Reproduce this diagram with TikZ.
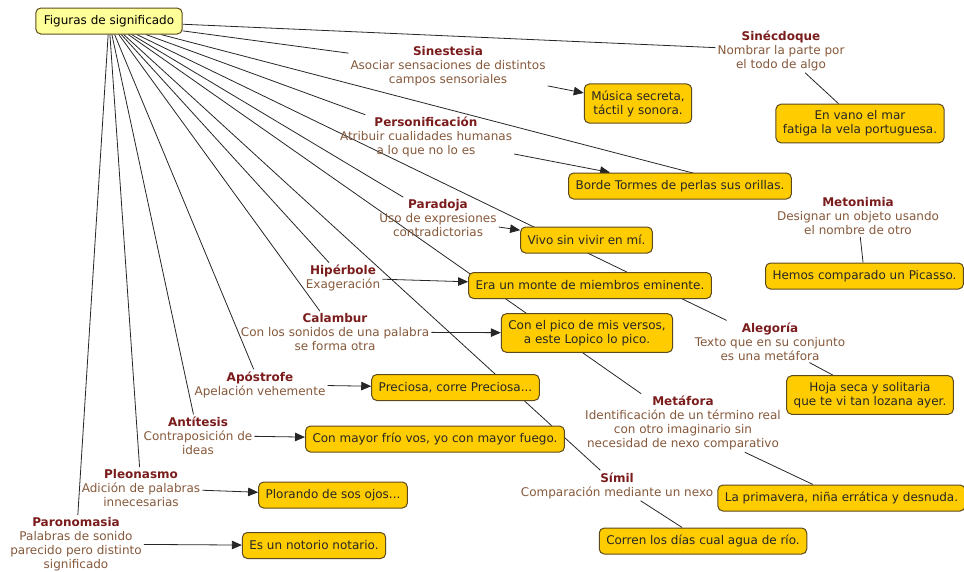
\documentclass[tikz,border=0pt]{standalone}
\usepackage{fontspec}
\setmainfont{DejaVu Sans}
\usepackage{tikz}
\usetikzlibrary{arrows.meta,backgrounds}
\definecolor{cmapyellow}{HTML}{FFCC00}
\definecolor{cmaproot}{HTML}{FFFF99}
\definecolor{cmapedge}{HTML}{5C4A1C}
\definecolor{figtitle}{HTML}{7B1C1C}
\definecolor{figdesc}{HTML}{85583A}
\newcommand{\figfont}{\fontsize{12}{14}\selectfont}
\newcommand{\figname}[1]{{\bfseries\color{figtitle}#1}}
\tikzset{
  rootbox/.style={rectangle, rounded corners=5pt, draw=cmapedge, fill=cmaproot, line width=1pt,
                  align=center, inner xsep=8pt, minimum height=26pt, font=\figfont},
  exbox/.style  ={rectangle, rounded corners=5pt, draw=cmapedge, fill=cmapyellow, line width=1pt,
                  align=center, inner xsep=7pt, inner ysep=6.5pt, minimum height=26pt,
                  text=black!85, font=\figfont},
  figlink/.style={align=center, inner sep=2pt, text=figdesc, font=\figfont},
  conn/.style   ={line width=0.8pt, draw=black!85},
  arr/.style    ={conn, -{Triangle[length=10pt,width=8.5pt]}},
}

\begin{document}
\begin{tikzpicture}[x=1pt,y=-1pt]
  \useasboundingbox (0,0) rectangle (964,571);
  \node[rootbox] (root) at (109,21) {Figuras de significado};

  % figures
  \node[figlink] (sinecdoque) at (781,50.5) {\figname{Sinécdoque}\\Nombrar la parte por\\el todo de algo};
  \node[figlink] (sinestesia) at (448,66.5) {\figname{Sinestesia}\\Asociar sensaciones de distintos\\campos sensoriales};
  \node[figlink] (personif) at (426,137) {\figname{Personificación}\\Atribuir cualidades humanas\\a lo que no lo es};
  \node[figlink] (paradoja) at (438,218) {\figname{Paradoja}\\Uso de expresiones\\contradictorias};
  \node[figlink] (metonimia) at (858,216) {\figname{Metonimia}\\Designar un objeto usando\\el nombre de otro};
  \node[figlink] (hiperbole) at (343,278) {\figname{Hipérbole}\\Exageración};
  \node[figlink] (calambur) at (335,332) {\figname{Calambur}\\Con los sonidos de una palabra\\se forma otra};
  \node[figlink] (alegoria) at (770,341.5) {\figname{Alegoría}\\Texto que en su conjunto\\es una metáfora};
  \node[figlink] (apostrofe) at (260,384.5) {\figname{Apóstrofe}\\Apelación vehemente};
  \node[figlink] (metafora) at (683,423) {\figname{Metáfora}\\Identificación de un término real\\con otro imaginario sin\\necesidad de nexo comparativo};
  \node[figlink] (antitesis) at (198,435.5) {\figname{Antítesis}\\Contraposición de\\ideas};
  \node[figlink] (simil) at (617,485.5) {\figname{Símil}\\Comparación mediante un nexo};
  \node[figlink] (pleonasmo) at (141,488) {\figname{Pleonasmo}\\Adición de palabras\\innecesarias};
  \node[figlink] (paronomasia) at (76,544) {\figname{Paronomasia}\\Palabras de sonido\\parecido pero distinto\\significado};

  % examples
  \node[exbox] (exsinec) at (860,123.5) {En vano el mar\\fatiga la vela portuguesa.};
  \node[exbox] (exsines) at (638,103.5) {Música secreta,\\táctil y sonora.};
  \node[exbox] (expers) at (680,186) {Borde Tormes de perlas sus orillas.};
  \node[exbox] (exparad) at (586.5,240) {Vivo sin vivir en mí.};
  \node[exbox] (exmeton) at (864.5,276) {Hemos comparado un Picasso.};
  \node[exbox] (exhiper) at (590,285.5) {Era un monte de miembros eminente.};
  \node[exbox] (excalam) at (587,333) {Con el pico de mis versos,\\a este Lopico lo pico.};
  \node[exbox] (exapos) at (455.5,387.5) {Preciosa, corre Preciosa...};
  \node[exbox] (exaleg) at (870,395) {Hoja seca y solitaria\\que te vi tan lozana ayer.};
  \node[exbox] (exantit) at (435,439) {Con mayor frío vos, yo con mayor fuego.};
  \node[exbox] (explean) at (333,495) {Plorando de sos ojos...};
  \node[exbox] (exmetaf) at (841.5,498) {La primavera, niña errática y desnuda.};
  \node[exbox] (exparon) at (314,545.5) {Es un notorio notario.};
  \node[exbox] (exsimil) at (703,541) {Corren los días cual agua de río.};

  \begin{scope}[on background layer]
    \foreach \fig in {sinecdoque,sinestesia,personif,paradoja,metonimia,hiperbole,calambur,
                      alegoria,apostrofe,metafora,antitesis,simil,pleonasmo,paronomasia}
      \draw[conn] (root) -- (\fig);
    % to the examples
    \draw[arr] (sinestesia) -- (exsines);
    \draw[arr] (personif) -- (expers);
    \draw[arr] (paradoja) -- (exparad);
    \draw[arr] (hiperbole) -- (exhiper);
    \draw[arr] (calambur) -- (excalam);
    \draw[arr] (apostrofe) -- (exapos);
    \draw[arr] (antitesis) -- (exantit);
    \draw[arr] (pleonasmo) -- (explean);
    \draw[arr] (paronomasia) -- (exparon);
    \draw[conn] (sinecdoque) -- (exsinec);
    \draw[conn] (metonimia) -- (exmeton);
    \draw[conn] (alegoria) -- (exaleg);
    \draw[conn] (metafora) -- (exmetaf);
    \draw[conn] (simil) -- (exsimil);
  \end{scope}
\end{tikzpicture}
\end{document}
